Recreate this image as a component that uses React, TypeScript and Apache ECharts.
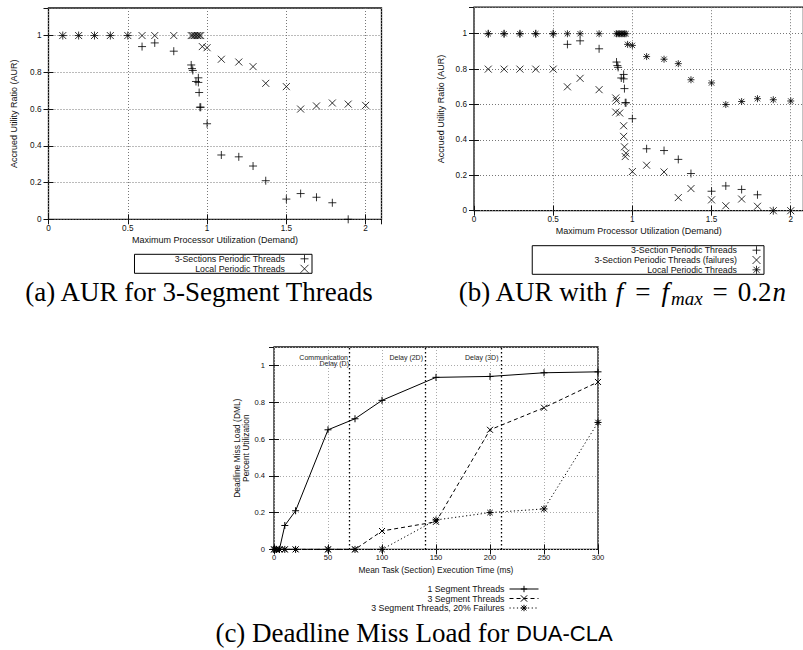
import React, { useEffect, useRef } from "react";
import * as echarts from "echarts";

// ---- (a) and (b): Accrued Utility Ratio vs. demand ----
const sectionX = [0.09, 0.19, 0.29, 0.39, 0.5, 0.59, 0.67, 0.79, 0.9, 0.905, 0.91, 0.93, 0.945, 0.945, 0.95, 0.955, 0.96, 1.0, 1.09, 1.2, 1.29, 1.37, 1.5, 1.59, 1.69, 1.79, 1.89];
const sectionY = [1, 1, 1, 1, 1, 0.94, 0.96, 0.915, 0.84, 0.82, 0.81, 0.75, 0.77, 0.745, 0.69, 0.61, 0.61, 0.52, 0.35, 0.34, 0.29, 0.21, 0.11, 0.14, 0.12, 0.09, 0];
const localX = [0.09, 0.19, 0.29, 0.39, 0.5, 0.59, 0.67, 0.79, 0.9, 0.91, 0.92, 0.93, 0.94, 0.95, 0.96, 0.97, 1.0, 1.09, 1.2, 1.29, 1.37, 1.5, 1.59, 1.69, 1.79, 1.89, 2.0];
const localY = [1, 1, 1, 1, 1, 1, 1, 1, 1, 1, 1, 1, 1, 1, 1, 0.94, 0.934, 0.871, 0.856, 0.831, 0.74, 0.722, 0.6, 0.617, 0.633, 0.627, 0.62];
const failX = [0.09, 0.19, 0.29, 0.39, 0.5, 0.59, 0.67, 0.79, 0.895, 0.9, 0.895, 0.92, 0.945, 0.945, 0.95, 0.96, 0.955, 1.0, 1.09, 1.2, 1.29, 1.37, 1.5, 1.59, 1.69, 1.79, 1.89, 2.0];
const failY = [0.8, 0.8, 0.8, 0.8, 0.8, 0.7, 0.748, 0.684, 0.637, 0.622, 0.557, 0.552, 0.48, 0.42, 0.361, 0.325, 0.306, 0.221, 0.257, 0.219, 0.074, 0.125, 0.061, 0.028, 0.066, 0.025, 0, 0];

// ---- (c): Deadline Miss Load vs. execution time ----
const execTime = [0, 2, 5, 10, 20, 50, 75, 100, 150, 200, 250, 300];
const oneSegment = [0, 0, 0, 0.13, 0.21, 0.65, 0.71, 0.81, 0.935, 0.94, 0.96, 0.965];
const threeSegment = [0, 0, 0, 0, 0, 0, 0, 0.1, 0.15, 0.65, 0.77, 0.91];
const threeSegmentFail = [0, 0, 0, 0, 0, 0, 0, 0, 0.16, 0.2, 0.22, 0.69];
const delayMarks = [70, 140, 210];
const delayLabels = ["Communication\nDelay (D)", "Delay (2D)", "Delay (3D)"];

const NAME_A1 = "3-Sections Periodic Threads";
const NAME_LOCAL = "Local Periodic Threads";
const NAME_B1 = "3-Section Periodic Threads";
const NAME_B2 = "3-Section Periodic Threads (failures)";
const NAME_C1 = "1 Segment Threads";
const NAME_C2 = "3 Segment Threads";
const NAME_C3 = "3 Segment Threads, 20% Failures";

const PLUS = "path://M5,0L5,10M0,5L10,5";
const CROSS = "path://M0,0L10,10M10,0L0,10";
const STAR = "path://M5,0L5,10M0,5L10,5M1.2,1.2L8.8,8.8M8.8,1.2L1.2,8.8";

const SANS = "'Liberation Sans', Arial, Helvetica, sans-serif";
const SERIF = "'Liberation Serif', 'Times New Roman', serif";
const CAP = 27;

const zip = (xs: number[], ys: number[]) => xs.map((x, i) => [x, ys[i]]);

const markStyle = { color: "#000", borderColor: "#000", borderWidth: 1 };

function mainX(gridIndex: number, max: number, interval: number, fs: number, name: string, nameGap: number, labelMargin: number, splitColor: string, showMax: boolean) {
  return {
    type: "value", gridIndex, min: 0, max, interval, position: "bottom",
    name, nameLocation: "middle", nameGap, nameMoveOverlap: false,
    nameTextStyle: { fontFamily: SANS, fontSize: fs + 0.8, color: "#111" },
    axisLine: { show: false },
    axisTick: { show: true, inside: true, length: 5, lineStyle: { color: "#111", width: 1 } },
    axisLabel: { show: true, fontFamily: SANS, fontSize: fs, color: "#111", margin: labelMargin, showMaxLabel: showMax, showMinLabel: true },
    splitLine: { show: true, lineStyle: { color: splitColor, width: 1, type: [1, 2] } },
  };
}
function mirrorX(gridIndex: number, max: number, interval: number) {
  return {
    type: "value", gridIndex, min: 0, max, interval, position: "top",
    axisLine: { show: false },
    axisTick: { show: true, inside: true, length: 5, lineStyle: { color: "#111", width: 1 } },
    axisLabel: { show: false }, splitLine: { show: false },
  };
}
function mainY(gridIndex: number, max: number, fs: number, name: string, nameGap: number, labelMargin: number, splitColor: string) {
  return {
    type: "value", gridIndex, min: 0, max, interval: 0.2, position: "left",
    name, nameLocation: "middle", nameGap, nameMoveOverlap: false,
    nameTextStyle: { fontFamily: SANS, fontSize: fs + 0.8, color: "#111", lineHeight: 9 },
    axisLine: { show: false },
    axisTick: { show: true, inside: true, length: 5, lineStyle: { color: "#111", width: 1 } },
    axisLabel: { show: true, fontFamily: SANS, fontSize: fs, color: "#111", margin: labelMargin, showMaxLabel: false },
    splitLine: { show: true, lineStyle: { color: splitColor, width: 1, type: [1, 2] } },
  };
}
function mirrorY(gridIndex: number, max: number) {
  return {
    type: "value", gridIndex, min: 0, max, interval: 0.2, position: "right",
    axisLine: { show: false },
    axisTick: { show: true, inside: true, length: 5, lineStyle: { color: "#111", width: 1 } },
    axisLabel: { show: false }, splitLine: { show: false },
  };
}

const gridBase = { show: true, borderColor: "#111", borderWidth: 1.3, backgroundColor: "transparent", containLabel: false, outerBoundsMode: "none" };

function buildOption(): any {
  return {
    animation: false,
    backgroundColor: "#fff",
    grid: [
      { ...gridBase, left: 48.5, top: 8, width: 333, height: 211.3 },
      { ...gridBase, left: 474, top: 7.2, width: 329.4, height: 203.5 },
      { ...gridBase, left: 274, top: 347, width: 324, height: 202.4 },
    ],
    xAxis: [
      mainX(0, 2.1, 0.5, 8.2, "Maximum Processor Utilization (Demand)", 16, 5, "#777", false),
      mirrorX(0, 2.1, 0.5),
      mainX(1, 2.08, 0.5, 8.2, "Maximum Processor Utilization (Demand)", 16, 5, "#777", false),
      mirrorX(1, 2.08, 0.5),
      mainX(2, 300, 50, 7.6, "Mean Task (Section) Execution Time (ms)", 17, 4, "#aaa", true),
      mirrorX(2, 300, 50),
    ],
    yAxis: [
      mainY(0, 1.15, 8.2, "Accrued Utility Ratio (AUR)", 30, 7, "#777"),
      mirrorY(0, 1.15),
      mainY(1, 1.15, 8.2, "Accrued Utility Ratio (AUR)", 29, 7, "#777"),
      mirrorY(1, 1.15),
      mainY(2, 1.1, 7.6, "Deadline Miss Load (DML)\nPercent Utilization", 24, 9, "#aaa"),
      mirrorY(2, 1.1),
    ],
    legend: [
      {
        orient: "vertical", align: "right", right: 491, top: 254.3,
        itemWidth: 29, itemHeight: 8, itemGap: 1, padding: [0, 3, 0, 40],
        borderColor: "#000", borderWidth: 1, selectedMode: false,
        textStyle: { fontFamily: SANS, fontSize: 8.8, color: "#111" },
        itemStyle: { color: "#000", borderColor: "#000", borderWidth: 1 },
        data: [{ name: NAME_A1, icon: PLUS }, { name: NAME_LOCAL, icon: CROSS }],
      },
      {
        orient: "vertical", align: "right", right: 39, top: 245.7,
        itemWidth: 29, itemHeight: 8, itemGap: 0.8, padding: [0, 3, 0, 62],
        borderColor: "#000", borderWidth: 1, selectedMode: false,
        textStyle: { fontFamily: SANS, fontSize: 8.8, color: "#111" },
        itemStyle: { color: "#000", borderColor: "#000", borderWidth: 1 },
        data: [{ name: NAME_B1, icon: PLUS }, { name: NAME_B2, icon: CROSS }, { name: NAME_LOCAL, icon: STAR }],
      },
      {
        orient: "vertical", align: "right", right: 264, top: 584.5,
        itemWidth: 29, itemHeight: 8, itemGap: 0.5, padding: 0, selectedMode: false,
        textStyle: { fontFamily: SANS, fontSize: 8.8, color: "#111" },
        itemStyle: { borderWidth: 1 },
        lineStyle: { width: 1 },
        data: [NAME_C1, NAME_C2, NAME_C3],
      },
    ],
    series: [
      { type: "scatter", name: NAME_LOCAL, xAxisIndex: 0, yAxisIndex: 0, symbol: CROSS, symbolSize: 7, symbolKeepAspect: true, itemStyle: markStyle, data: zip(localX, localY) },
      { type: "scatter", name: NAME_A1, xAxisIndex: 0, yAxisIndex: 0, symbol: PLUS, symbolSize: 8, symbolKeepAspect: true, itemStyle: markStyle, data: zip(sectionX, sectionY) },
      { type: "scatter", name: NAME_LOCAL, xAxisIndex: 2, yAxisIndex: 2, symbol: STAR, symbolSize: 7, symbolKeepAspect: true, itemStyle: markStyle, data: zip(localX, localY) },
      { type: "scatter", name: NAME_B1, xAxisIndex: 2, yAxisIndex: 2, symbol: PLUS, symbolSize: 8, symbolKeepAspect: true, itemStyle: markStyle, data: zip(sectionX, sectionY) },
      { type: "scatter", name: NAME_B2, xAxisIndex: 2, yAxisIndex: 2, symbol: CROSS, symbolSize: 7, symbolKeepAspect: true, itemStyle: markStyle, data: zip(failX, failY) },
      {
        type: "line", name: NAME_C1, xAxisIndex: 4, yAxisIndex: 4, symbol: PLUS, symbolSize: 7, symbolKeepAspect: true, showAllSymbol: true,
        itemStyle: markStyle, lineStyle: { color: "#000", width: 1, type: "solid" }, data: zip(execTime, oneSegment),
        markLine: {
          silent: true, symbol: ["none", "none"], label: { show: false },
          lineStyle: { color: "#000", width: 1.3, type: [1.5, 2.5] },
          data: delayMarks.map((d) => ({ xAxis: d })),
        },
      },
      { type: "line", name: NAME_C2, xAxisIndex: 4, yAxisIndex: 4, symbol: CROSS, symbolSize: 6, symbolKeepAspect: true, showAllSymbol: true, itemStyle: markStyle, lineStyle: { color: "#000", width: 1, type: [4, 3] }, data: zip(execTime, threeSegment) },
      { type: "line", name: NAME_C3, xAxisIndex: 4, yAxisIndex: 4, symbol: STAR, symbolSize: 7, symbolKeepAspect: true, showAllSymbol: true, itemStyle: markStyle, lineStyle: { color: "#000", width: 1, type: [1.2, 2.5] }, data: zip(execTime, threeSegmentFail) },
    ],
    graphic: [
      { type: "text", x: 199, y: 292, style: { text: "(a) AUR for 3-Segment Threads", fontFamily: SERIF, fontSize: CAP, fill: "#000", align: "center", verticalAlign: "middle" } },
      {
        type: "text", x: 623, y: 292,
        style: {
          text: "{r|(b) AUR with }{i|f}{e|=}{i|f}{s|max}{e|=}{r|0.2}{i|n}", align: "center", verticalAlign: "middle", fill: "#000",
          rich: {
            r: { fontFamily: SERIF, fontSize: CAP, lineHeight: 32 },
            e: { fontFamily: SERIF, fontSize: CAP, lineHeight: 32, padding: [0, 10, 0, 10] },
            i: { fontFamily: SERIF, fontSize: CAP, fontStyle: "italic", lineHeight: 32, padding: [0, 2, 0, 1] },
            s: { fontFamily: SERIF, fontSize: 19, fontStyle: "italic", lineHeight: 32, verticalAlign: "bottom" },
          },
        },
      },
      {
        type: "text", x: 414, y: 633,
        style: {
          text: "{r|(c) Deadline Miss Load for }{d|DUA-CLA}", align: "center", verticalAlign: "middle", fill: "#000",
          rich: { r: { fontFamily: SERIF, fontSize: CAP, lineHeight: 32 }, d: { fontFamily: SANS, fontSize: 22, lineHeight: 32 } },
        },
      },
      { type: "text", x: 348, y: 357.5, style: { text: "Communication", fontFamily: SANS, fontSize: 7, fill: "#222", align: "right", verticalAlign: "middle" } },
      { type: "text", x: 349, y: 363.5, style: { text: "Delay (D)", fontFamily: SANS, fontSize: 7, fill: "#222", align: "right", verticalAlign: "middle" } },
      { type: "text", x: 423, y: 357.5, style: { text: delayLabels[1], fontFamily: SANS, fontSize: 7, fill: "#222", align: "right", verticalAlign: "middle" } },
      { type: "text", x: 498.5, y: 357.5, style: { text: delayLabels[2], fontFamily: SANS, fontSize: 7, fill: "#222", align: "right", verticalAlign: "middle" } },
    ],
  };
}

export default function App() {
  const ref = useRef<HTMLDivElement>(null);
  useEffect(() => {
    document.body.style.margin = "0";
    if (!ref.current) return;
    const chart = echarts.init(ref.current, null, { renderer: "svg" });
    chart.setOption(buildOption());
    return () => chart.dispose();
  }, []);
  return <div ref={ref} style={{ width: 803, height: 650, background: "#fff" }} />;
}
